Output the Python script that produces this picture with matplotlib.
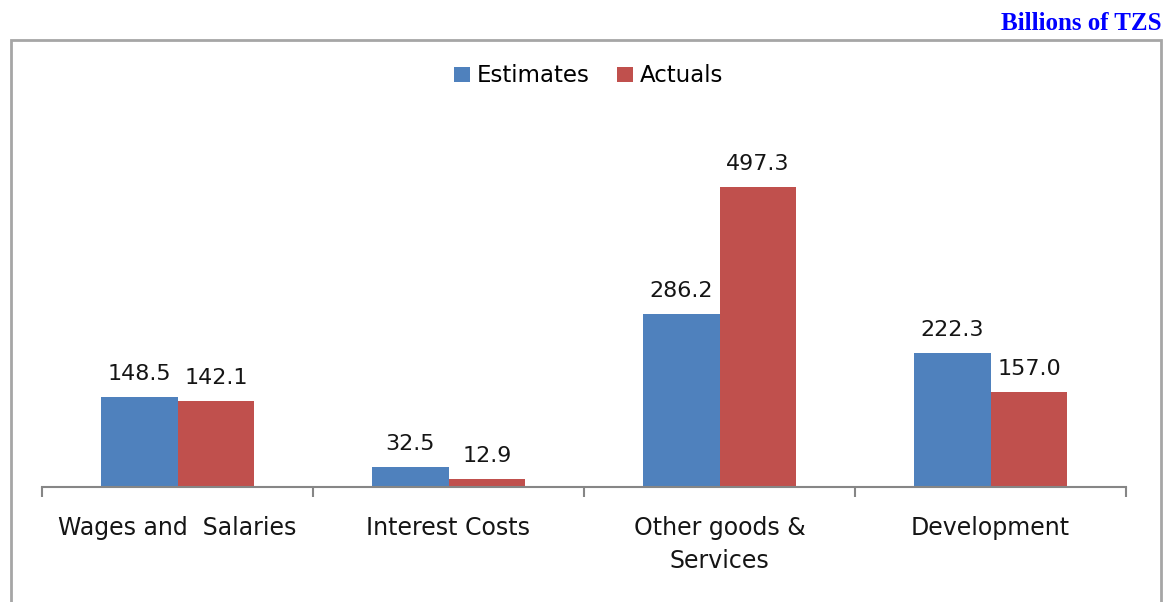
import matplotlib
matplotlib.use("Agg")
import matplotlib.pyplot as plt
from matplotlib.patches import Rectangle
import numpy as np

categories = ["Wages and  Salaries", "Interest Costs", "Other goods &\nServices", "Development"]
estimates = [148.5, 32.5, 286.2, 222.3]
actuals = [142.1, 12.9, 497.3, 157.0]
series_names = ["Estimates", "Actuals"]

BLUE = "#4F81BD"
RED = "#C0504D"
FONT = "DejaVu Sans"
TEXT = "#151515"

W, H = 1172, 602
fig = plt.figure(figsize=(W / 100, H / 100), dpi=100)
fig.patch.set_facecolor("white")

# outer chart frame
frame = Rectangle((11 / W, -0.05), (1161 - 11) / W, (H - 40) / H + 0.05,
                  transform=fig.transFigure, fill=False,
                  edgecolor="#A6A6A6", linewidth=2.0)
fig.patches.append(frame)

fig.text(1162 / W, 1 - 30 / H, "Billions of TZS", ha="right", va="baseline",
         fontsize=18, fontweight="bold", color="#0000FF",
         family="Liberation Serif")

ax = fig.add_axes([42 / W, (H - 487) / H, (1126 - 42) / W, (487 - 125) / H])
ax.set_facecolor("none")

x = np.arange(len(categories))
bw = 0.284
b1 = ax.bar(x - bw / 2, estimates, bw, color=BLUE, label=series_names[0])
b2 = ax.bar(x + bw / 2, actuals, bw, color=RED, label=series_names[1])

for bars, vals in ((b1, estimates), (b2, actuals)):
    for rect, v in zip(bars, vals):
        ax.annotate(f"{v:.1f}", (rect.get_x() + rect.get_width() / 2, v),
                    xytext=(0, 12.5), textcoords="offset points",
                    ha="center", va="baseline", fontsize=16,
                    color=TEXT, family=FONT)

ax.set_xlim(-0.5, len(categories) - 0.5)
ax.set_ylim(0, 600)

for s in ("top", "right", "left"):
    ax.spines[s].set_visible(False)
ax.spines["bottom"].set_color("#868686")
ax.spines["bottom"].set_linewidth(1.5)
ax.set_yticks([])

ax.set_xticks(np.arange(-0.5, len(categories)), minor=True)
ax.tick_params(axis="x", which="minor", length=7, width=1.5, color="#868686",
               direction="out")
ax.set_xticks(x)
ax.set_xticklabels(categories, fontsize=17, family=FONT, color=TEXT,
                   linespacing=1.45)
ax.tick_params(axis="x", which="major", length=0, pad=21)

leg = ax.legend(loc="center", ncol=2, frameon=False,
                prop={"family": FONT, "size": 16.5},
                handlelength=0.7, handleheight=0.6, handletextpad=0.3,
                columnspacing=1.2)
leg.set_bbox_to_anchor((0.5 * (42 + 1126) / W + 0.004, (H - 76) / H),
                       transform=fig.transFigure)

fig.savefig("out.png", dpi=100, facecolor="white")
